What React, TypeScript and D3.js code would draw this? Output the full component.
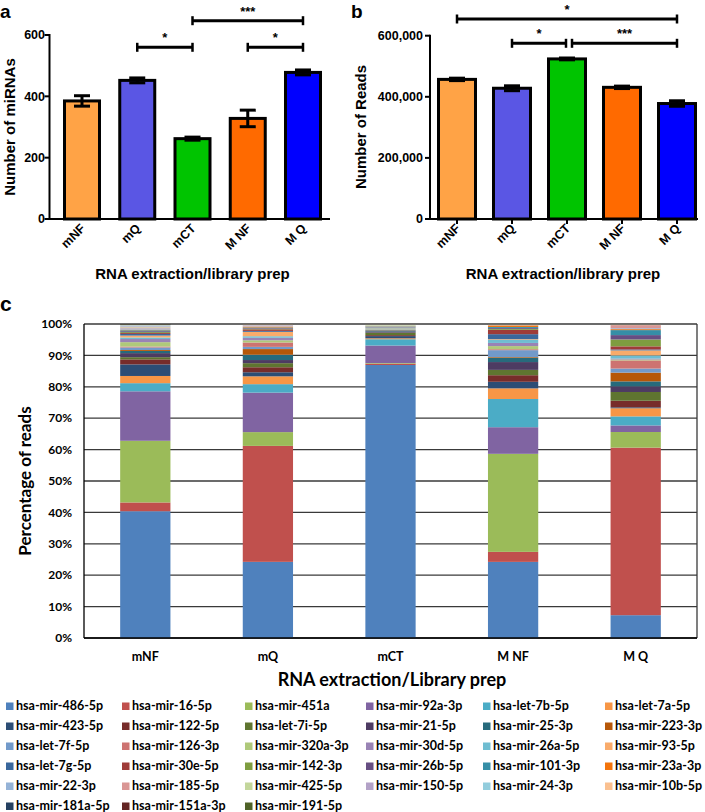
import React from 'react';
import * as d3 from 'd3';

const categories = ['mNF', 'mQ', 'mCT', 'M NF', 'M Q'];
const miRNACounts = [385, 452, 262, 328, 478];
const miRNAErr = [17, 8, 5, 27, 8];
const readCounts = [457000, 428000, 524000, 431000, 378000];
const readErr = [4000, 8000, 3000, 4000, 9000];
const barColors = ['#FFA346', '#5A56E4', '#00C400', '#FF6A00', '#0000FF'];

const seriesNames = [
  'hsa-mir-486-5p', 'hsa-mir-16-5p', 'hsa-mir-451a', 'hsa-mir-92a-3p', 'hsa-let-7b-5p', 'hsa-let-7a-5p',
  'hsa-mir-423-5p', 'hsa-mir-122-5p', 'hsa-let-7i-5p', 'hsa-mir-21-5p', 'hsa-mir-25-3p', 'hsa-mir-223-3p',
  'hsa-let-7f-5p', 'hsa-mir-126-3p', 'hsa-mir-320a-3p', 'hsa-mir-30d-5p', 'hsa-mir-26a-5p', 'hsa-mir-93-5p',
  'hsa-let-7g-5p', 'hsa-mir-30e-5p', 'hsa-mir-142-3p', 'hsa-mir-26b-5p', 'hsa-mir-101-3p', 'hsa-mir-23a-3p',
  'hsa-mir-22-3p', 'hsa-mir-185-5p', 'hsa-mir-425-5p', 'hsa-mir-150-5p', 'hsa-mir-24-3p', 'hsa-mir-10b-5p',
  'hsa-mir-181a-5p', 'hsa-mir-151a-3p', 'hsa-mir-191-5p',
];
const seriesColors = [
  '#4F81BD', '#C0504D', '#9BBB59', '#8064A2', '#4BACC6', '#F79646',
  '#2C4D75', '#772C2A', '#5F7530', '#4D3B62', '#276A7C', '#B65708',
  '#729ACA', '#CD7371', '#AFC97A', '#9983B5', '#6FBDD1', '#F9AB6B',
  '#3A679C', '#9F3B38', '#7E9D40', '#664E82', '#358EA6', '#F3740B',
  '#95B3D7', '#D99694', '#C3D69B', '#B3A2C7', '#93CDDD', '#FAC090',
  '#254061', '#632523', '#4F6228',
];

const pct_mNF = [40.5, 2.8, 19.7, 15.8, 2.6, 2.3, 3.7, 1.6, 0.7, 1.3, 0.7, 0.3, 0.8, 0.3, 1.4, 1.0, 0.5, 0.6, 0.5, 0.3, 0.3, 0.3, 0.3, 0.2, 0.4, 0.3, 0.2, 0.2, 0.3, 0.1, 0.1, 0.1, 0.1];
const pct_mQ = [24.3, 37.0, 4.4, 12.6, 2.7, 2.5, 1.3, 1.6, 1.3, 1.0, 1.7, 1.8, 0.7, 1.4, 0.7, 0.8, 0.5, 1.4, 0.3, 0.5, 0.2, 0.2, 0.2, 0.2, 0.1, 0.15, 0.15, 0.2, 0.05, 0.1, 0.05, 0.05, 0.05];
const pct_mCT = [86.9, 0.4, 0.2, 5.6, 2.0, 0.3, 0.7, 0.3, 0.8, 0.4, 0.3, 0.1, 0.2, 0.05, 0.3, 0.1, 0.15, 0.05, 0.1, 0.05, 0.1, 0.05, 0.05, 0.05, 0.15, 0.05, 0.2, 0.05, 0.05, 0.05, 0.05, 0.05, 0.05];
const pct_MNF = [24.3, 3.2, 31.3, 8.5, 9.0, 3.4, 2.1, 2.1, 1.7, 2.5, 1.4, 0.2, 2.2, 0.3, 1.0, 1.0, 1.0, 0.2, 1.6, 1.4, 0.3, 0.3, 0.3, 0.5, 0.05, 0.05, 0.05, 0.05, 0.05, 0.05, 0.05, 0.05, 0.05];
const pct_MQ = [7.3, 53.6, 5.0, 2.1, 2.9, 2.6, 0.3, 2.1, 2.8, 1.8, 1.6, 2.8, 1.3, 2.6, 0.3, 0.3, 1.0, 1.6, 0.3, 1.0, 2.2, 1.4, 1.6, 0.3, 0.3, 1.0, 0.05, 0.05, 0.05, 0.05, 0.05, 0.05, 0.05];
const pctByCategory = [pct_mNF, pct_mQ, pct_mCT, pct_MNF, pct_MQ];

// significance brackets: [fromIndex, toIndex, label, level]
const sigA = [[1, 2, '*', 1], [2, 4, '***', 0], [3, 4, '*', 1]];
const sigB = [[0, 4, '*', 0], [1, 2, '*', 1], [2, 4, '***', 1]];

const ARIAL = '"Liberation Sans", Arial, sans-serif';
const CAL = 'Lato, "Open Sans", sans-serif';

function BarPanel({ letter, values, errs, xRange, yTop, yMax, tickFmt, axisX, axisRight, ylabel, sig, sigY, showXTicks, barW, offsetX, tickLabelX }: any) {
  const x = d3.scalePoint<string>().domain(categories).range(xRange);
  const y = d3.scaleLinear().domain([0, yMax]).range([219, yTop]);
  const ticks = y.ticks(3);
  return (
    <g>
      <text x={offsetX} y={18} fontFamily={ARIAL} fontWeight="bold" fontSize={19}>{letter}</text>
      {values.map((v: number, i: number) => {
        const cx = x(categories[i])!;
        return (
          <g key={i}>
            <rect x={cx - barW / 2} y={y(v)} width={barW} height={y(0) - y(v)} fill={barColors[i]} stroke="#000" strokeWidth={3} />
            <line x1={cx} x2={cx} y1={y(v - errs[i])} y2={y(v + errs[i])} stroke="#000" strokeWidth={3} />
            <line x1={cx - 8} x2={cx + 8} y1={y(v + errs[i])} y2={y(v + errs[i])} stroke="#000" strokeWidth={3} />
            <line x1={cx - 8} x2={cx + 8} y1={y(v - errs[i])} y2={y(v - errs[i])} stroke="#000" strokeWidth={3} />
          </g>
        );
      })}
      <line x1={axisX} x2={axisX} y1={y(yMax) - 1} y2={y(0) + 1} stroke="#000" strokeWidth={2} />
      <line x1={axisX - 1} x2={axisRight} y1={y(0)} y2={y(0)} stroke="#000" strokeWidth={2} />
      {ticks.map((t) => (
        <g key={t}>
          <line x1={axisX - 5} x2={axisX} y1={y(t)} y2={y(t)} stroke="#000" strokeWidth={2} />
          <text x={tickLabelX} y={y(t)} dy="0.35em" textAnchor="end" fontFamily={ARIAL} fontWeight="bold" fontSize={12.5}>{tickFmt(t)}</text>
        </g>
      ))}
      {categories.map((c) => {
        const cx = x(c)!;
        return (
          <g key={c}>
            {showXTicks && <line x1={cx} x2={cx} y1={y(0)} y2={y(0) + 5} stroke="#000" strokeWidth={2} />}
            <text transform={`translate(${cx + 4},${229}) rotate(-45)`} textAnchor="end" fontFamily={ARIAL} fontWeight="bold" fontSize={12.5}>{c}</text>
          </g>
        );
      })}
      <text x={(xRange[0] + xRange[1]) / 2 + (letter === 'a' ? 0 : -4)} y={279} textAnchor="middle" fontFamily={ARIAL} fontWeight="bold" fontSize={15}>RNA extraction/library prep</text>
      <text transform={`translate(${offsetX + 15},${127}) rotate(-90)`} textAnchor="middle" fontFamily={ARIAL} fontWeight="bold" fontSize={15}>{ylabel}</text>
      {sig.map((s: any, k: number) => {
        const x1 = x(categories[s[0]])! + (s[0] === 2 && s[3] === 1 && letter === 'b' && s[1] === 4 ? 5 : 0);
        const x2 = x(categories[s[1]])! - (letter === 'b' && s[1] === 2 ? 1 : 0);
        const yy = sigY[s[3]];
        return (
          <g key={k}>
            <line x1={x1} x2={x2} y1={yy} y2={yy} stroke="#000" strokeWidth={3} />
            <line x1={x1} x2={x1} y1={yy - 4.5} y2={yy + 4.5} stroke="#000" strokeWidth={2.5} />
            <line x1={x2} x2={x2} y1={yy - 4.5} y2={yy + 4.5} stroke="#000" strokeWidth={2.5} />
            <text x={(x1 + x2) / 2} y={yy - 5} textAnchor="middle" fontFamily={ARIAL} fontWeight="bold" fontSize={13}>{s[2]}</text>
          </g>
        );
      })}
    </g>
  );
}

function StackPanel() {
  const x = d3.scaleBand<string>().domain(categories).range([84, 697]).paddingInner(0.59).paddingOuter(0.295);
  const y = d3.scaleLinear().domain([0, 1]).range([638, 324]);
  const rows = categories.map((c, i) => {
    const r: any = { cat: c };
    seriesNames.forEach((s, j) => (r[s] = pctByCategory[i][j]));
    return r;
  });
  const stack = d3.stack<any>().keys(seriesNames).offset(d3.stackOffsetExpand);
  const layers = stack(rows);
  const ticks = y.ticks(10);
  const fmt = d3.format('.0%');
  const legendX = [6, 122, 245, 366, 483, 605];
  return (
    <g>
      <text x={0} y={311} fontFamily={ARIAL} fontWeight="bold" fontSize={21}>c</text>
      {ticks.map((t) => (
        <g key={t}>
          <line x1={84} x2={697} y1={y(t)} y2={y(t)} stroke="#3a3a3a" strokeWidth={1.3} />
          <text x={72} y={y(t)} dy="0.35em" textAnchor="end" fontFamily={CAL} fontWeight="bold" fontSize={12}>{fmt(t)}</text>
        </g>
      ))}
      {layers.map((layer, j) => (
        <g key={j} fill={seriesColors[j]}>
          {layer.map((d: any, i: number) => (
            <rect key={i} x={x(categories[i])} width={x.bandwidth()} y={y(d[1])} height={Math.max(0, y(d[0]) - y(d[1]))} />
          ))}
        </g>
      ))}
      <line x1={84} x2={84} y1={324} y2={638} stroke="#000" strokeWidth={1.3} />
      <line x1={697} x2={697} y1={324} y2={638} stroke="#3a3a3a" strokeWidth={1.3} />
      <line x1={84} x2={697} y1={638} y2={638} stroke="#000" strokeWidth={1.5} />
      {categories.map((c) => (
        <text key={c} x={x(c)! + x.bandwidth() / 2} y={661} textAnchor="middle" fontFamily={CAL} fontWeight="bold" fontSize={12.5}>{c}</text>
      ))}
      <text transform={`translate(${31},${481}) rotate(-90)`} textAnchor="middle" fontFamily={CAL} fontWeight="bold" fontSize={17}>Percentage of reads</text>
      <text x={392} y={686} textAnchor="middle" fontFamily={CAL} fontWeight="bold" fontSize={18}>RNA extraction/Library prep</text>
      {seriesNames.map((s, j) => {
        const col = j % 6;
        const row = Math.floor(j / 6);
        const lx = legendX[col];
        const ly = 710 + row * 20;
        return (
          <g key={s}>
            <rect x={lx} y={ly - 7.5} width={7.5} height={7.5} fill={seriesColors[j]} />
            <text x={lx + 10} y={ly} fontFamily={CAL} fontWeight="bold" fontSize={12.5}>{s}</text>
          </g>
        );
      })}
    </g>
  );
}

export default function App() {
  return (
    <svg width={705} height={812} style={{ position: 'absolute', left: 0, top: 0, background: '#fff' }}>
      <rect width={705} height={812} fill="#fff" />
      <BarPanel letter="a" values={miRNACounts} errs={miRNAErr} xRange={[82, 303]} yTop={35} yMax={600}
        tickFmt={d3.format('d')} axisX={49.5} axisRight={330} ylabel="Number of miRNAs" sig={sigA} sigY={[20.7, 47.3]}
        showXTicks={false} barW={35} offsetX={0} tickLabelX={45} />
      <BarPanel letter="b" values={readCounts} errs={readErr} xRange={[457, 677]} yTop={35.7} yMax={600000}
        tickFmt={d3.format(',')} axisX={430} axisRight={698} ylabel="Number of Reads" sig={sigB} sigY={[19, 43.3]}
        showXTicks={true} barW={37} offsetX={351} tickLabelX={423} />
      <StackPanel />
    </svg>
  );
}
